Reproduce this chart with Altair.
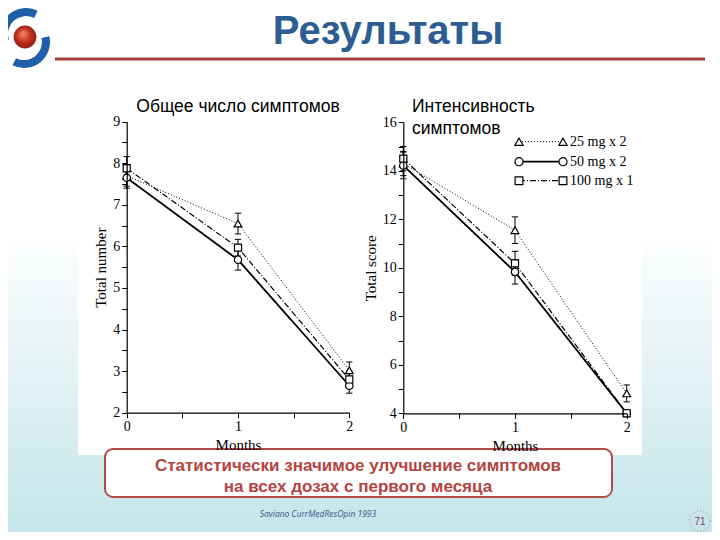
import altair as alt
import pandas as pd

# ---------------- data ----------------
months = [0, 1, 2]
series = ["25 mg x 2", "50 mg x 2", "100 mg x 1"]

# Left panel: total number of symptoms
number_25 = [7.70, 6.55, 3.02]
number_25_err = [0.25, 0.25, 0.20]
number_50 = [7.65, 5.68, 2.65]
number_50_err = [0.25, 0.25, 0.18]
number_100 = [7.88, 5.97, 2.80]
number_100_err = [0.28, 0.20, 0.20]

# Right panel: total symptom score
score_25 = [14.30, 11.55, 4.82]
score_25_err = [0.50, 0.55, 0.35]
score_50 = [14.22, 9.83, 4.00]
score_50_err = [0.55, 0.50, 0.00]
score_100 = [14.50, 10.18, 4.00]
score_100_err = [0.50, 0.50, 0.00]

number_y_ticks = [2 + 0.5 * i for i in range(15)]
score_y_ticks = list(range(4, 17))
x_ticks = [0, 0.5, 1, 1.5, 2]

# ---------------- styles ----------------
shapes = ["triangle-up", "circle", "square"]
dashes = [[1, 2], [1, 0], [6, 2, 1, 2]]
widths = [1.0, 1.8, 1.2]
sizes = [60, 55, 50]

W, H = 704, 524  # chart origin is page (8, 8)


def make_df(vals, errs, floor):
    rows = []
    for s, v, e in zip(series, vals, errs):
        for m, vv, ee in zip(months, v, e):
            rows.append(dict(series=s, month=m, value=vv,
                             lo=max(vv - ee, floor), hi=vv + ee))
    return pd.DataFrame(rows)


df_num = make_df([number_25, number_50, number_100],
                 [number_25_err, number_50_err, number_100_err], 2)
df_score = make_df([score_25, score_50, score_100],
                   [score_25_err, score_50_err, score_100_err], 4)

axis_style = dict(
    grid=False, domainColor="black", domainWidth=1.2, tickColor="black",
    tickWidth=1, tickSize=5, labelColor="black", titleColor="black",
    labelFont="Liberation Serif", labelFontSize=14, titleFont="Liberation Serif",
    titleFontSize=15, titleFontWeight="normal", zindex=1, labelPadding=2,
    labelOverlap=False, labelFlush=False,
)


def label_expr(step):
    return f"datum.value % {step} == 0 ? '' + datum.value : ''"


def panel(df, xr, ydom, yr, yvals, ystep, ytitle, xoff, yoff):
    xs = alt.Scale(domain=[0, 2], range=xr, nice=False, zero=False)
    ys = alt.Scale(domain=ydom, range=yr, nice=False, zero=False)
    xax = alt.Axis(orient="bottom", offset=xoff, values=x_ticks,
                   labelExpr=label_expr(1), title="Months", **axis_style)
    yax = alt.Axis(orient="left", offset=yoff, values=yvals, labelExpr=label_expr(ystep),
                   title=ytitle, **axis_style)

    def X(f):
        return alt.X(f"{f}:Q", scale=xs, axis=xax)

    def Y(f):
        return alt.Y(f"{f}:Q", scale=ys, axis=yax)

    layers = []
    for i, s in enumerate(series):
        d = df[df.series == s]
        layers.append(alt.Chart(d).mark_line(color="black", strokeDash=dashes[i],
                                             strokeWidth=widths[i])
                      .encode(x=X("month"), y=Y("value")))
    layers.append(alt.Chart(df).mark_rule(color="black", strokeWidth=1)
                  .encode(x=X("month"), y=Y("lo"), y2="hi:Q"))
    for f in ["lo", "hi"]:
        layers.append(alt.Chart(df).mark_point(shape="M-1,0L1,0", size=40, filled=False,
                                               stroke="black", strokeWidth=1, opacity=1)
                      .encode(x=X("month"), y=Y(f)))
    for i, s in enumerate(series):
        d = df[df.series == s]
        layers.append(alt.Chart(d).mark_point(shape=shapes[i], size=sizes[i], filled=True,
                                              fill="white", stroke="black",
                                              strokeWidth=1.2, opacity=1)
                      .encode(x=X("month"), y=Y("value")))
    return alt.layer(*layers)


left = panel(df_num, [118.7, 341.3], [2, 9], [404.7, 113.7], number_y_ticks,
             1, "Total number", 404.7 - H, -118.7)
right = panel(df_score, [395.3, 618.7], [4, 16], [405.3, 114.3], score_y_ticks,
              2, "Total score", 405.3 - H, -395.3)

D = pd.DataFrame({"k": [0]})


def box(x1, x2, y1, y2, **kw):
    return alt.Chart(D).mark_rect(**kw).encode(
        x=alt.value(x1), x2=alt.value(x2), y=alt.value(y1), y2=alt.value(y2))


def txt(x, y, s, **kw):
    return alt.Chart(D).mark_text(text=s, **kw).encode(x=alt.value(x), y=alt.value(y))


bg = box(0, W, 0, H, fill=alt.LinearGradient(
    gradient="linear", x1=0, x2=0, y1=0, y2=1,
    stops=[alt.GradientStop(color="#ffffff", offset=0),
           alt.GradientStop(color="#ffffff", offset=0.42),
           alt.GradientStop(color="#e3f2f5", offset=0.7),
           alt.GradientStop(color="#c4e5ea", offset=1)]))
image_bg = box(70, 634, 77, 447, fill="white")

# logo
logo_top = alt.Chart(D).mark_arc(theta=4.4, theta2=6.75, radius=26, radius2=18,
                                 color="#1d5fa8").encode(x=alt.value(18), y=alt.value(26))
logo_bot = alt.Chart(D).mark_arc(theta=1.35, theta2=3.6, radius=26, radius2=18,
                                 color="#1d5fa8").encode(x=alt.value(16), y=alt.value(34))
logo_ball = alt.Chart(D).mark_point(
    shape="circle", size=520, filled=True, opacity=1, strokeWidth=0,
    fill=alt.RadialGradient(gradient="radial", x1=0.4, y1=0.35, r1=0.02,
                            x2=0.5, y2=0.5, r2=0.6,
                            stops=[alt.GradientStop(color="#f2876a", offset=0),
                                   alt.GradientStop(color="#c2301d", offset=0.5),
                                   alt.GradientStop(color="#7c1a0f", offset=1)])
).encode(x=alt.value(17), y=alt.value(29))

title = txt(380, 36, "Результаты", font="Liberation Sans", fontSize=40,
            fontWeight="bold", color="#2d5e93", align="center", baseline="alphabetic")
underline = alt.Chart(D).mark_rule(color="#a0403a", strokeWidth=3).encode(
    x=alt.value(47), x2=alt.value(697), y=alt.value(51))

t_left = txt(230, 99, "Общее число симптомов", font="Liberation Sans", fontSize=17.5,
             color="black", align="center", baseline="middle")
t_right1 = txt(404, 99, "Интенсивность", font="Liberation Sans", fontSize=17.5,
               color="black", align="left", baseline="middle")
t_right2 = txt(404, 121, "симптомов", font="Liberation Sans", fontSize=17.5,
               color="black", align="left", baseline="middle")

# legend (right panel)
legend_layers = []
leg_y = [133.7, 153.7, 172.7]
for i, s in enumerate(series):
    yy = leg_y[i]
    legend_layers.append(alt.Chart(D).mark_rule(color="black", strokeDash=dashes[i],
                                                 strokeWidth=widths[i])
                         .encode(x=alt.value(511), x2=alt.value(555), y=alt.value(yy)))
    for xx in [511, 555]:
        legend_layers.append(alt.Chart(D).mark_point(shape=shapes[i], size=sizes[i] + 10,
                                                     filled=True, fill="white", stroke="black",
                                                     strokeWidth=1.2, opacity=1)
                             .encode(x=alt.value(xx), y=alt.value(yy)))
    legend_layers.append(txt(562, yy, s, font="Liberation Serif", fontSize=14,
                             color="black", align="left", baseline="middle"))

# conclusion box
concl_box = box(97, 604, 441, 489, fill="white", stroke="#b34a48", strokeWidth=2,
                cornerRadius=8)
concl1 = txt(350, 458, "Статистически значимое улучшение симптомов",
             font="Liberation Sans", fontSize=17, fontWeight="bold", color="#b5443e",
             align="center", baseline="middle")
concl2 = txt(350, 479, "на всех дозах с первого месяца",
             font="Liberation Sans", fontSize=17, fontWeight="bold", color="#b5443e",
             align="center", baseline="middle")
cite = txt(310, 506, "Saviano CurrMedResOpin 1993", font="Open Sans", fontSize=8.5,
           fontStyle="italic", color="#35558a", align="center", baseline="middle")
page_ring = alt.Chart(D).mark_point(shape="circle", size=420, filled=False,
                                    stroke="#b07a95", strokeWidth=1, strokeDash=[1, 2],
                                    opacity=1).encode(x=alt.value(692), y=alt.value(513))
page_no = txt(692, 514, "71", font="Liberation Sans", fontSize=10, color="#7a3a55",
              align="center", baseline="middle")

chart = alt.layer(
    bg, image_bg, logo_top, logo_bot, logo_ball, title, underline,
    left, right, t_left, t_right1, t_right2, *legend_layers,
    concl_box, concl1, concl2, cite, page_ring, page_no,
).resolve_scale(x="independent", y="independent").properties(
    width=W, height=H, padding=0, autosize="none", background="white"
).configure_view(stroke=None)

chart.save("out.html", embed_options={"renderer": "svg", "actions": False})
